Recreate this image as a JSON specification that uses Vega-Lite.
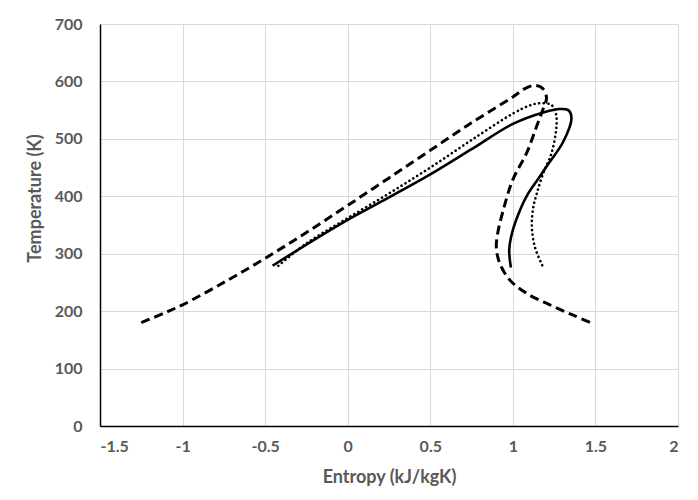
{
  "$schema": "https://vega.github.io/schema/vega-lite/v6.json",
  "width": 578,
  "height": 402,
  "autosize": {"type": "none"},
  "padding": {"left": 100, "top": 24, "right": 20, "bottom": 74},
  "background": "white",
  "datasets": {
    "dashed": [
      {"i": 1, "s": -1.25, "t": 180},
      {"i": 2, "s": -1.1, "t": 198},
      {"i": 3, "s": -1.0, "t": 211},
      {"i": 4, "s": -0.75, "t": 250},
      {"i": 5, "s": -0.5, "t": 292},
      {"i": 6, "s": -0.25, "t": 337},
      {"i": 7, "s": 0.0, "t": 384},
      {"i": 8, "s": 0.25, "t": 432},
      {"i": 9, "s": 0.5, "t": 480},
      {"i": 10, "s": 0.75, "t": 528},
      {"i": 11, "s": 1.0, "t": 573},
      {"i": 12, "s": 1.07, "t": 587},
      {"i": 13, "s": 1.13, "t": 593},
      {"i": 14, "s": 1.18, "t": 588},
      {"i": 15, "s": 1.204, "t": 571},
      {"i": 16, "s": 1.188, "t": 556},
      {"i": 17, "s": 1.143, "t": 521},
      {"i": 18, "s": 1.083, "t": 475},
      {"i": 19, "s": 1.0, "t": 429},
      {"i": 20, "s": 0.94, "t": 374},
      {"i": 21, "s": 0.908, "t": 335},
      {"i": 22, "s": 0.9, "t": 310},
      {"i": 23, "s": 0.921, "t": 283},
      {"i": 24, "s": 0.982, "t": 254},
      {"i": 25, "s": 1.083, "t": 231},
      {"i": 26, "s": 1.224, "t": 211},
      {"i": 27, "s": 1.365, "t": 193},
      {"i": 28, "s": 1.487, "t": 178}
    ],
    "solid": [
      {"i": 1, "s": -0.455, "t": 279},
      {"i": 2, "s": -0.25, "t": 316},
      {"i": 3, "s": 0.0, "t": 359},
      {"i": 4, "s": 0.25, "t": 398},
      {"i": 5, "s": 0.5, "t": 438},
      {"i": 6, "s": 0.75, "t": 482},
      {"i": 7, "s": 1.0, "t": 526},
      {"i": 8, "s": 1.184, "t": 546},
      {"i": 9, "s": 1.285, "t": 552},
      {"i": 10, "s": 1.335, "t": 550},
      {"i": 11, "s": 1.355, "t": 536},
      {"i": 12, "s": 1.305, "t": 495},
      {"i": 13, "s": 1.204, "t": 452},
      {"i": 14, "s": 1.15, "t": 429},
      {"i": 15, "s": 1.083, "t": 400},
      {"i": 16, "s": 1.035, "t": 370},
      {"i": 17, "s": 0.995, "t": 336},
      {"i": 18, "s": 0.978, "t": 307},
      {"i": 19, "s": 0.988, "t": 276}
    ],
    "dotted": [
      {"i": 1, "s": -0.42, "t": 279},
      {"i": 2, "s": -0.25, "t": 318},
      {"i": 3, "s": 0.0, "t": 362},
      {"i": 4, "s": 0.25, "t": 405},
      {"i": 5, "s": 0.5, "t": 450},
      {"i": 6, "s": 0.75, "t": 498},
      {"i": 7, "s": 1.0, "t": 544},
      {"i": 8, "s": 1.1, "t": 558},
      {"i": 9, "s": 1.164, "t": 562},
      {"i": 10, "s": 1.234, "t": 559},
      {"i": 11, "s": 1.262, "t": 542},
      {"i": 12, "s": 1.262, "t": 516},
      {"i": 13, "s": 1.234, "t": 475},
      {"i": 14, "s": 1.184, "t": 440},
      {"i": 15, "s": 1.145, "t": 405},
      {"i": 16, "s": 1.122, "t": 378},
      {"i": 17, "s": 1.115, "t": 347},
      {"i": 18, "s": 1.133, "t": 312},
      {"i": 19, "s": 1.184, "t": 276}
    ]
  },
  "encoding": {
    "x": {
      "field": "s", "type": "quantitative",
      "scale": {"domain": [-1.5, 2], "nice": false, "zero": false},
      "axis": {"title": "Entropy (kJ/kgK)", "values": [-1.5, -1, -0.5, 0, 0.5, 1, 1.5, 2], "labelExpr": "'' + datum.value", "labelPadding": 12, "titlePadding": 14}
    },
    "y": {
      "field": "t", "type": "quantitative",
      "scale": {"domain": [0, 700], "nice": false},
      "axis": {"title": "Temperature (K)", "values": [0, 100, 200, 300, 400, 500, 600, 700], "labelPadding": 18, "titlePadding": 10, "titleY": 174}
    },
    "order": {"field": "i", "type": "quantitative"}
  },
  "layer": [
    {
      "data": {"name": "dashed"},
      "mark": {"type": "line", "color": "black", "strokeWidth": 3, "strokeDash": [9, 5], "strokeCap": "butt", "interpolate": "catmull-rom"}
    },
    {
      "data": {"name": "dotted"},
      "mark": {"type": "line", "color": "black", "strokeWidth": 2.6, "strokeDash": [0.1, 4.5], "strokeCap": "round", "interpolate": "catmull-rom"}
    },
    {
      "data": {"name": "solid"},
      "mark": {"type": "line", "color": "black", "strokeWidth": 2.6, "interpolate": "catmull-rom"}
    }
  ],
  "config": {
    "view": {"stroke": "#d9d9d9"},
    "axis": {
      "gridColor": "#d9d9d9",
      "gridWidth": 1,
      "domainColor": "black",
      "domainWidth": 1.5,
      "ticks": false,
      "labelFont": "Lato",
      "labelFontSize": 16,
      "labelFontWeight": "bold",
      "labelColor": "#595959",
      "titleFont": "Lato",
      "titleFontSize": 18,
      "titleFontWeight": "bold",
      "titleColor": "#595959"
    }
  }
}
